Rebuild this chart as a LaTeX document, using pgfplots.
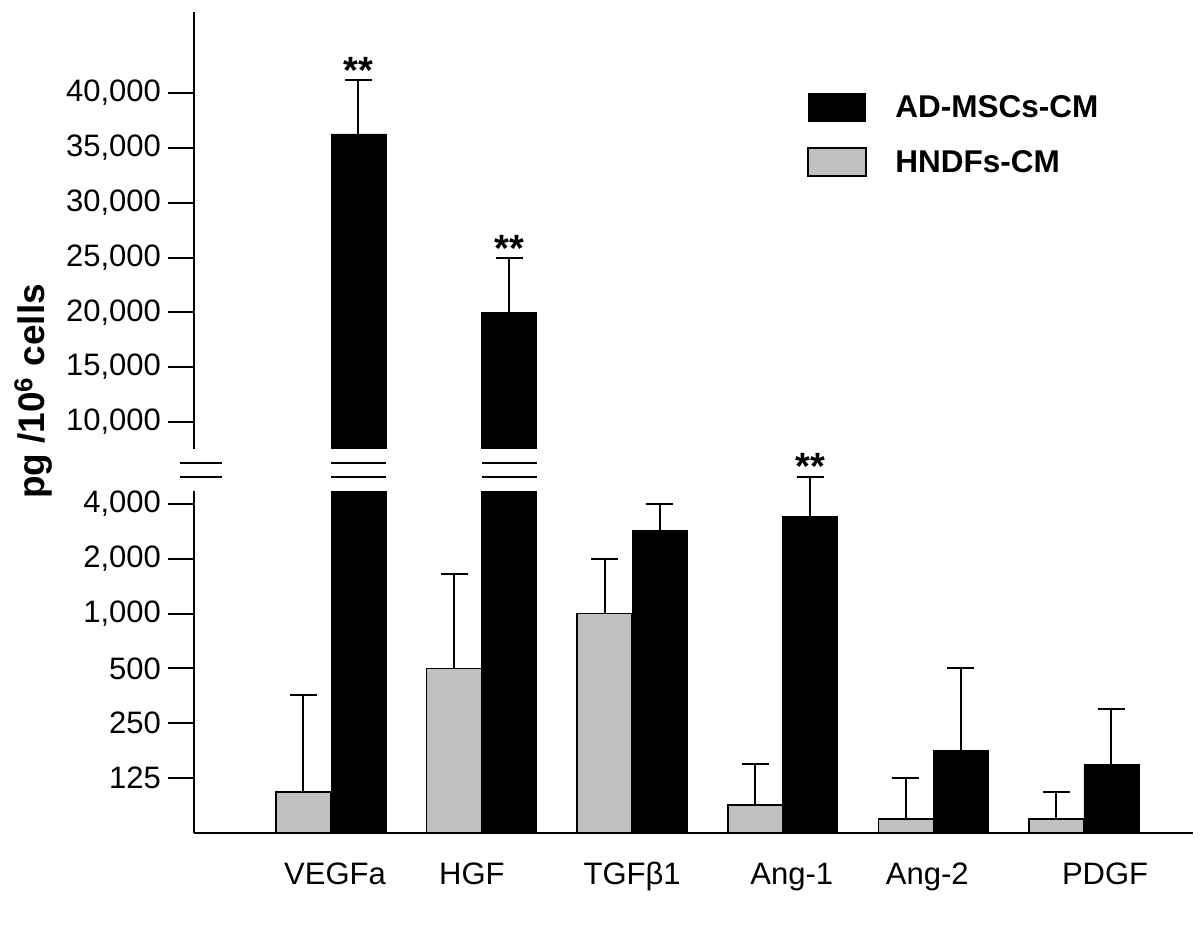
\documentclass[border=0pt]{standalone}
\usepackage{fontspec}
\setmainfont{Liberation Sans}
\usepackage{pgfplots}
\pgfplotsset{compat=1.18}
\definecolor{gbar}{RGB}{192,192,192}
\tikzset{stars/.style={anchor=base, inner sep=0pt, yshift=-1.5pt, font=\bfseries\fontsize{19}{20}\selectfont}}

\begin{document}
\begin{tikzpicture}
\useasboundingbox (0pt,0pt) rectangle (600pt,463.5pt);
\pgfplotsset{
  common/.style={
    scale only axis, width=499.5pt,
    xmin=-0.9097, xmax=5.724,
    ybar, bar width=0.365,
    axis y line*=left,
    axis line style={line width=1pt,-},
    tick align=outside, major tick length=13pt,
    ytick style={line width=1pt, black},
    tick label style={font=\fontsize{15.5}{18}\selectfont},
    /pgf/number format/assume math mode=true,
    scaled y ticks=false,
    error bars/error bar style={line width=1pt, draw=black, fill=none},
    error bars/error mark options={line width=1pt, draw=black, mark size=6.75pt, rotate=90},
  },
}
% lower (log2) panel
\begin{axis}[common, at={(97pt,47pt)}, anchor=south west, height=171pt,
  ymode=log, log basis y=2, log origin=infty, ymin=62.5, ymax=4713,
  axis x line*=bottom, clip=false,
  ytick={125,250,500,1000,2000,4000},
  yticklabels={125,250,500,{1,000},{2,000},{4,000}},
  xtick={0.027,0.936,2.0,3.06,3.96,5.14},
  xticklabels={VEGFa,HGF,TGFβ1,Ang-1,Ang-2,PDGF},
  xtick style={draw=none},
  xticklabel style={anchor=base, yshift=-13pt},
]
\addplot[fill=gbar, draw=black, line width=0.8pt, bar shift=-0.1826,
  error bars/.cd, y dir=plus, y explicit]
  coordinates {(0,104.7)+-(0,251) (1,500)+-(0,1159) (2,1000)+-(0,1000)
               (3,88.9)+-(0,60) (4,74.4)+-(0,50.6) (5,74.4)+-(0,30.3)};
% bars that run through the break: cut at the top of the lower panel (log2 of 4713)
\addplot[fill=black, draw=black, bar shift=0.1826,
  y filter/.expression={min(y,12.2025)}]
  coordinates {(0,36270) (1,20000)};
\addplot[fill=black, draw=black, bar shift=0.1826,
  error bars/.cd, y dir=plus, y explicit]
  coordinates {(2,2849)+-(0,1151) (3,3403)+-(0,2225) (4,178)+-(0,322) (5,149)+-(0,149)};
\node[stars] at (axis cs:3.1826,5628) {**};
\end{axis}
% upper (linear) panel
\begin{axis}[common, at={(97pt,239pt)}, anchor=south west, height=218.5pt,
  ymin=7536, ymax=47390, axis x line=none,
  ytick={10000,15000,20000,25000,30000,35000,40000},
  yticklabels={{10,000},{15,000},{20,000},{25,000},{30,000},{35,000},{40,000}},
  xtick=\empty,
]
\addplot[fill=black, draw=black, bar shift=0.1826,
  error bars/.cd, y dir=plus, y explicit]
  coordinates {(0,36270)+-(0,4916) (1,20000)+-(0,4927)};
\node[stars] at (axis cs:0.1826,41186) {**};
\node[stars] at (axis cs:1.1826,24927) {**};
\end{axis}
% break marks
\draw[line width=1pt] (90pt,232pt)--(111pt,232pt) (90pt,225pt)--(111pt,225pt)
  (165.5pt,232pt)--(193pt,232pt) (165.5pt,225pt)--(193pt,225pt)
  (241pt,232pt)--(268.5pt,232pt) (241pt,225pt)--(268.5pt,225pt);
% legend
\fill[black] (404pt,402.5pt) rectangle (433pt,417pt);
\draw[fill=gbar, line width=0.8pt] (404pt,375.5pt) rectangle (433pt,389.5pt);
\node[anchor=west, inner sep=0, font=\bfseries\fontsize{15.75}{18}\selectfont] at (447.5pt,410pt) {AD-MSCs-CM};
\node[anchor=west, inner sep=0, font=\bfseries\fontsize{15.75}{18}\selectfont] at (447.5pt,382.5pt) {HNDFs-CM};
% y label
\node[anchor=base, rotate=90, font=\bfseries\fontsize{18.5}{20}\selectfont] at (22.5pt,267.75pt) {pg /10\textsuperscript{6} cells};
\end{tikzpicture}
\end{document}
